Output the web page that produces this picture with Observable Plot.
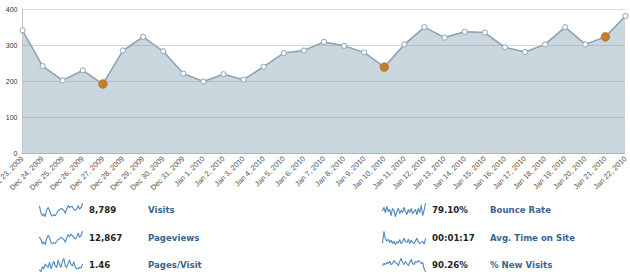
<!DOCTYPE html>
<html>
<head>
<meta charset="utf-8">
<script src="https://cdn.jsdelivr.net/npm/d3@7"></script>
<script src="https://cdn.jsdelivr.net/npm/@observablehq/plot@0.6"></script>
<style>
  html, body { margin: 0; padding: 0; background: #fff; }
  #wrap { position: relative; width: 630px; height: 279px; overflow: hidden; }
  #chart svg { display: block; }
  #bottom { position: absolute; left: 0; top: 196px; width: 630px; height: 83px; }
  .spark { position: absolute; }
  .val, .lab { position: absolute; font-family: "DejaVu Sans", Verdana, sans-serif; font-weight: bold; font-size: 8.6px; line-height: 14px; white-space: nowrap; }
  .val { color: #1e1e1e; }
  .lab { color: #3a6490; }
</style>
</head>
<body>
<div id="wrap">
  <div id="chart"></div>
  <div id="bottom"></div>
</div>
<script>
const dates = ["2009-12-23","2009-12-24","2009-12-25","2009-12-26","2009-12-27","2009-12-28","2009-12-29","2009-12-30","2009-12-31",
  "2010-01-01","2010-01-02","2010-01-03","2010-01-04","2010-01-05","2010-01-06","2010-01-07","2010-01-08","2010-01-09","2010-01-10",
  "2010-01-11","2010-01-12","2010-01-13","2010-01-14","2010-01-15","2010-01-16","2010-01-17","2010-01-18","2010-01-19","2010-01-20",
  "2010-01-21","2010-01-22"];
const visits = [342,243,203,231,193,286,324,284,222,200,220,205,241,279,286,310,299,281,240,303,351,322,338,336,295,282,303,351,303,324,382];
const highlighted = ["2009-12-27","2010-01-10","2010-01-21"];
const yTicks = [0,100,200,300,400];

// sparkline series
const sparkVisits = visits;
const sparkPageviews = [420,385,300,335,290,400,455,410,330,300,325,310,345,385,390,425,400,380,330,410,465,430,475,450,420,390,425,495,420,455,525];
const sparkPagesPerVisit = [1.30,1.25,1.42,1.35,1.52,1.45,1.40,1.58,1.35,1.50,1.62,1.45,1.40,1.66,1.50,1.40,1.62,1.72,1.45,1.40,1.56,1.66,1.50,1.45,1.60,1.40,1.35,1.35,1.40,1.38,1.50];
const sparkBounce = [80,83,78,84,79,81,75,82,80,74,79,82,77,80,78,83,79,76,81,78,82,77,79,81,76,82,78,85,75,80,87];
const sparkTime = [62,84,70,66,69,63,67,61,65,59,64,62,68,61,63,71,65,63,69,61,67,63,61,66,71,64,61,63,65,60,70];
const sparkNew = [88,90,89,91,90,92,89,90,93,91,90,88,92,95,91,89,92,90,88,91,94,90,89,92,91,93,92,90,91,85,82];

const metricValues = ["8,789","12,867","1.46","79.10%","00:01:17","90.26%"];
const metricLabels = ["Visits","Pageviews","Pages/Visit","Bounce Rate","Avg. Time on Site","% New Visits"];
const metricSeries = [sparkVisits, sparkPageviews, sparkPagesPerVisit, sparkBounce, sparkTime, sparkNew];

const parse = d3.utcParse("%Y-%m-%d");
const data = dates.map((d, i) => ({date: parse(d), visits: visits[i], hi: highlighted.includes(d)}));
const hiData = data.filter(d => d.hi);
const first = data[0].date, last = data[data.length - 1].date;

const chart = Plot.plot({
  width: 630,
  height: 196,
  marginTop: 9,
  marginBottom: 43,
  marginLeft: 22,
  marginRight: 5,
  style: {fontFamily: "'Liberation Sans', Arial, sans-serif", fontSize: "7.5px", color: "#444", background: "#fff", overflow: "visible"},
  x: {type: "utc", domain: [first, last]},
  y: {domain: [0, 400]},
  marks: [
    Plot.areaY(data, {x: "date", y: "visits", fill: "#cbd7df"}),
    Plot.gridY(yTicks, {stroke: "#7a7a7a", strokeOpacity: 0.28}),
    Plot.ruleX([first], {stroke: "#c4c4c4"}),
    Plot.ruleY([0], {stroke: "#b4b4b4"}),
    Plot.lineY(data, {x: "date", y: "visits", stroke: "#8aa2b4", strokeWidth: 1.5}),
    Plot.dot(data, {x: "date", y: "visits", r: 2.6, fill: "#fff", stroke: "#8aa2b4", strokeWidth: 1}),
    Plot.dot(hiData, {x: "date", y: "visits", r: 4.3, fill: "#c47e2b", stroke: "#b6722a", strokeWidth: 0.8}),
    Plot.axisY(yTicks, {tickSize: 0, tickPadding: 5, fontSize: 7, label: null, fill: "#333"}),
    Plot.axisX(data.map(d => d.date), {tickRotate: -45, tickSize: 0, tickPadding: 4, tickFormat: d3.utcFormat("%b %-d, %Y"), fontSize: 7.5, label: null, fill: "#555"})
  ]
});
document.getElementById("chart").appendChild(chart);

const bottom = document.getElementById("bottom");
const cols = [{spark: 38, val: 89, lab: 148}, {spark: 381, val: 432, lab: 490}];
const rowTops = [7, 35, 62];
metricSeries.forEach((series, i) => {
  const col = cols[Math.floor(i / 3)];
  const top = rowTops[i % 3];
  const sp = Plot.plot({
    width: 45, height: 15, margin: 1,
    x: {axis: null}, y: {axis: null, domain: d3.extent(series)},
    style: {background: "transparent", overflow: "visible"},
    marks: [Plot.lineY(series, {stroke: "#4a88c0", strokeWidth: 1.1})]
  });
  sp.classList.add("spark");
  sp.style.left = col.spark + "px";
  sp.style.top = (top - 1) + "px";
  sp.style.position = "absolute";
  bottom.appendChild(sp);
  const v = document.createElement("div");
  v.className = "val"; v.textContent = metricValues[i];
  v.style.left = col.val + "px"; v.style.top = top + "px";
  bottom.appendChild(v);
  const l = document.createElement("div");
  l.className = "lab"; l.textContent = metricLabels[i];
  l.style.left = col.lab + "px"; l.style.top = top + "px";
  bottom.appendChild(l);
});
</script>
</body>
</html>
